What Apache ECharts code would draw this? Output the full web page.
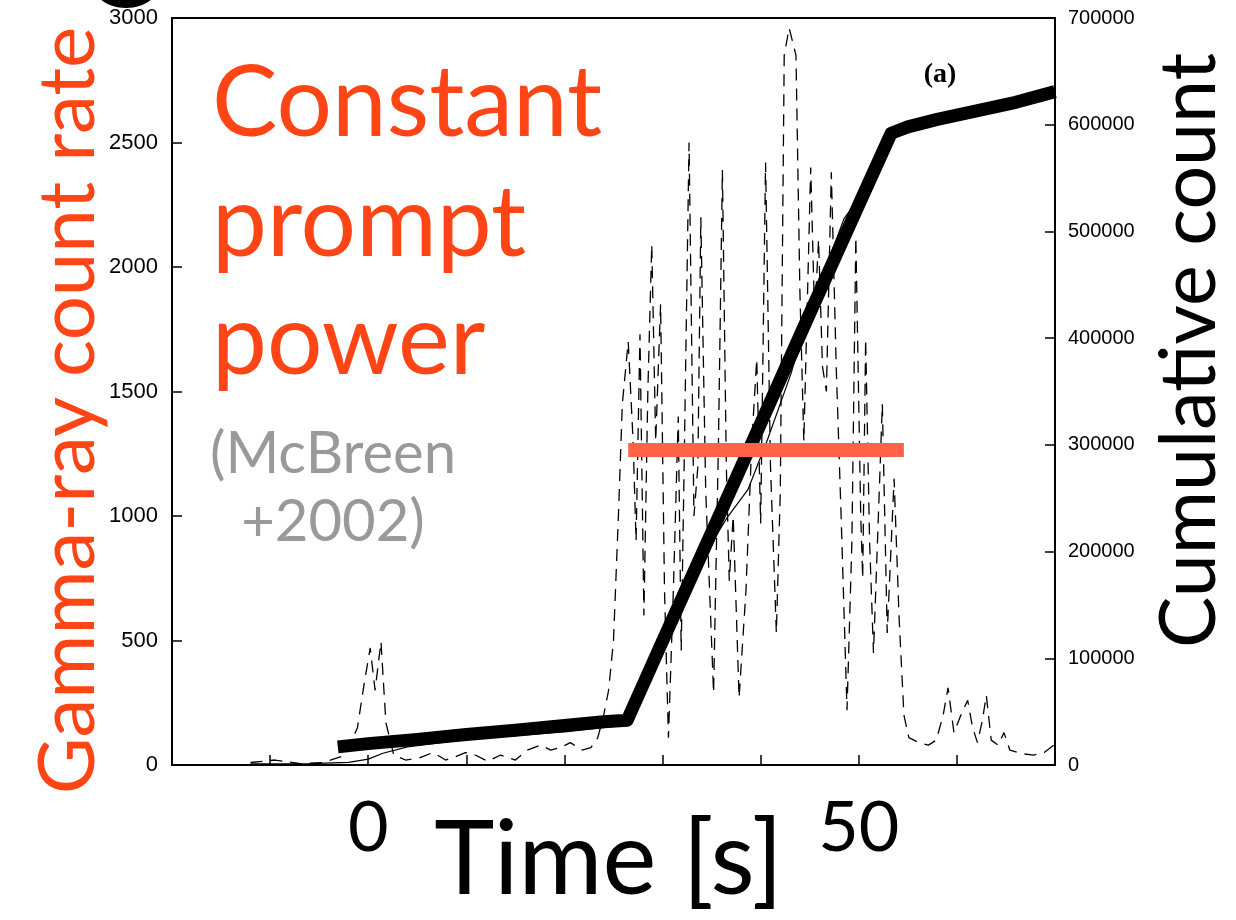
<!DOCTYPE html>
<html>
<head>
<meta charset="utf-8">
<script src="https://cdn.jsdelivr.net/npm/echarts@6/dist/echarts.min.js"></script>
<style>
  html, body { margin: 0; padding: 0; background: #fff; }
  #main { width: 1236px; height: 920px; }
</style>
</head>
<body>
<div id="main"></div>
<script>
// gamma-ray count rate (dashed light curve), left axis
var rateTime = [-12.0, -9.5, -6.9, -4.6, -2.3, -1.1, -0.4, 0.2, 0.7, 1.3, 1.8, 2.6, 3.8, 5.3, 6.6, 7.9, 8.7, 9.9, 10.9, 12.2,
    13.5, 15.0, 16.2, 17.6, 18.6, 19.6, 20.6, 21.8, 22.7, 23.4, 24.0, 24.5, 25.0, 25.5, 25.9, 26.5, 27.0, 27.3, 27.7, 28.1,
    28.5, 28.9, 29.3, 29.8, 30.2, 30.6, 31.1, 31.6, 31.9, 32.2, 32.7, 33.2, 33.6, 33.9, 34.4, 35.2, 35.7, 36.1, 36.5, 36.8,
    37.2, 37.8, 38.5, 39.1, 39.6, 40.0, 40.5, 41.0, 41.6, 42.0, 42.4, 42.9, 43.6, 44.0, 44.4, 45.1, 45.5, 45.9, 46.3, 46.7,
    47.2, 47.7, 48.2, 48.8, 49.3, 49.7, 50.2, 50.4, 50.7, 51.1, 51.5, 52.0, 52.4, 52.9, 53.6, 54.1, 54.6, 55.1, 56.1, 57.1,
    57.9, 58.6, 59.1, 59.7, 60.4, 61.1, 61.6, 62.1, 62.6, 63.0, 63.5, 64.2, 64.8, 65.4, 66.7, 67.8, 68.9, 69.9];
var rateValues = [10, 20, 5, 10, 40, 150, 330, 470, 300, 495, 170, 40, 20, 30, 50, 20, 30, 50, 40, 15,
    40, 20, 60, 80, 60, 70, 90, 60, 70, 110, 200, 300, 500, 1000, 1450, 1700, 1300, 900, 1730, 600,
    1500, 2090, 1300, 1850, 700, 110, 700, 1400, 460, 1200, 2500, 1000, 1200, 2200, 1100, 290, 1300, 2390, 1200, 740,
    1000, 270, 700, 1300, 1630, 970, 2420, 1200, 530, 1100, 2850, 2960, 2850, 1900, 1300, 2400, 1800, 2110, 1600, 1500,
    2380, 1600, 1000, 220, 900, 2120, 1000, 750, 1710, 900, 450, 1000, 1450, 530, 1150, 600, 200, 110, 90, 80,
    100, 200, 310, 130, 200, 260, 150, 90, 180, 280, 100, 80, 130, 60, 45, 40, 50, 80];

// cumulative count (thick band), right axis
var cumTime = [-3.1, 0, 5, 10, 15, 20, 24, 26.4, 30, 35, 40, 45, 50, 53.3, 55, 58, 62, 66, 70];
var cumValues = [17000, 20000, 24000, 28500, 32500, 37000, 40500, 42000, 116000, 218000, 320000, 423000, 525000, 592000, 598000, 605000, 613000, 621000, 631000];

// single thin cumulative curve, right axis
var thinTime = [-12, -6, -2, 0, 1.5, 4, 10, 20, 26, 28, 30, 33, 35, 36.6, 38.7, 40.7, 43.1, 45, 47.4, 48.5, 49.3, 50.5, 53.3];
var thinValues = [1000, 1200, 2500, 5500, 11000, 17000, 24000, 31000, 37000, 70000, 110000, 175000, 208000, 232000, 258000, 305000, 367000, 428000, 485000, 512000, 522000, 530000, 590000];

// constant prompt power level, left axis
var promptTime = [26.5, 54.6];
var promptValue = 1265;

function zip(xs, ys) {
    var out = [];
    for (var i = 0; i < xs.length; i++) {
        out.push([xs[i], ys[i]]);
    }
    return out;
}

var chart = echarts.init(document.getElementById('main'));

var gillFont = 'Lato, "Open Sans", sans-serif';
var orange = '#ff4515';

var option = {
    animation: false,
    backgroundColor: '#fff',
    grid: {
        left: 172, right: 181, top: 18, bottom: 155,
        containLabel: false, outerBoundsMode: 'none',
        show: true, borderColor: '#000', borderWidth: 2, backgroundColor: 'transparent'
    },
    xAxis: {
        type: 'value',
        min: -20, max: 70, interval: 10,
        name: 'Time [s]',
        nameLocation: 'middle',
        nameGap: 45,
        nameMoveOverlap: false,
        nameTextStyle: { fontFamily: gillFont, fontSize: 102, color: '#000', padding: [0, 10, 0, 0] },
        axisLine: { show: true, onZero: false, lineStyle: { color: '#000', width: 2 } },
        axisTick: { show: true, inside: true, length: 10, lineStyle: { color: '#000', width: 1.5 } },
        splitLine: { show: false },
        axisLabel: {
            margin: 28,
            fontFamily: gillFont, fontSize: 70, color: '#000',
            formatter: function (v) { return (v === 0 || v === 50) ? String(v) : ''; }
        }
    },
    yAxis: [{
        type: 'value',
        min: 0, max: 3000, interval: 500,
        position: 'left',
        name: 'Gamma-ray count rate',
        nameLocation: 'middle',
        nameRotate: 90,
        nameGap: 64,
        nameMoveOverlap: false,
        nameTextStyle: { fontFamily: gillFont, fontSize: 78, color: orange, padding: [0, 38, 0, 0] },
        axisLine: { show: true, onZero: false, lineStyle: { color: '#000', width: 2 } },
        axisTick: { show: true, inside: true, length: 10, lineStyle: { color: '#000', width: 1.5 } },
        splitLine: { show: false },
        axisLabel: {
            margin: 14, fontFamily: 'Liberation Sans, Arial, sans-serif', fontSize: 22, color: '#000',
            formatter: function (v) { return String(v); }
        }
    }, {
        type: 'value',
        min: 0, max: 700000, interval: 100000,
        position: 'right',
        name: 'Cumulative count',
        nameLocation: 'middle',
        nameRotate: 90,
        nameGap: 97,
        nameMoveOverlap: false,
        nameTextStyle: { fontFamily: gillFont, fontSize: 77, color: '#000', padding: [0, 0, 0, 82] },
        axisLine: { show: true, onZero: false, lineStyle: { color: '#000', width: 2 } },
        axisTick: { show: true, inside: true, length: 10, lineStyle: { color: '#000', width: 1.5 } },
        splitLine: { show: false },
        axisLabel: {
            margin: 13, fontFamily: 'Liberation Sans, Arial, sans-serif', fontSize: 20, color: '#000',
            formatter: function (v) { return String(v); }
        }
    }],
    series: [{
        name: 'Gamma-ray count rate',
        type: 'line',
        yAxisIndex: 0,
        data: zip(rateTime, rateValues),
        showSymbol: false,
        z: 2,
        lineStyle: { color: '#000', width: 1.3, type: [12, 8] }
    }, {
        name: 'Cumulative count',
        type: 'line',
        yAxisIndex: 1,
        data: zip(cumTime, cumValues),
        showSymbol: false,
        z: 3,
        lineStyle: { color: '#000', width: 13, join: 'round', cap: 'butt' }
    }, {
        name: 'Cumulative count (single)',
        type: 'line',
        yAxisIndex: 1,
        data: zip(thinTime, thinValues),
        showSymbol: false,
        z: 4,
        lineStyle: { color: '#000', width: 1.2 }
    }, {
        name: 'Constant prompt power',
        type: 'line',
        yAxisIndex: 0,
        data: [[promptTime[0], promptValue], [promptTime[1], promptValue]],
        showSymbol: false,
        z: 5,
        lineStyle: { color: '#ff6347', width: 14, cap: 'butt' }
    }],
    graphic: [
        { type: 'ellipse', shape: { cx: 126, cy: -14, rx: 32, ry: 22 }, style: { fill: '#000' } },
        { type: 'text', style: { text: 'Constant', x: 212, y: 104, font: '98px ' + gillFont, fill: orange, textVerticalAlign: 'middle' } },
        { type: 'text', style: { text: 'prompt', x: 212, y: 224, font: '98px ' + gillFont, fill: orange, textVerticalAlign: 'middle' } },
        { type: 'text', style: { text: 'power', x: 212, y: 342, font: '98px ' + gillFont, fill: orange, textVerticalAlign: 'middle' } },
        { type: 'text', style: { text: '(McBreen', x: 333, y: 454, font: '58px ' + gillFont, fill: '#999', textAlign: 'center', textVerticalAlign: 'middle' } },
        { type: 'text', style: { text: '+2002)', x: 333, y: 522, font: '58px ' + gillFont, fill: '#999', textAlign: 'center', textVerticalAlign: 'middle' } },
        { type: 'text', style: { text: '(a)', x: 940, y: 75, font: 'bold 28px "Liberation Serif", serif', fill: '#000', textAlign: 'center', textVerticalAlign: 'middle' } }
    ]
};

chart.setOption(option);
</script>
</body>
</html>
